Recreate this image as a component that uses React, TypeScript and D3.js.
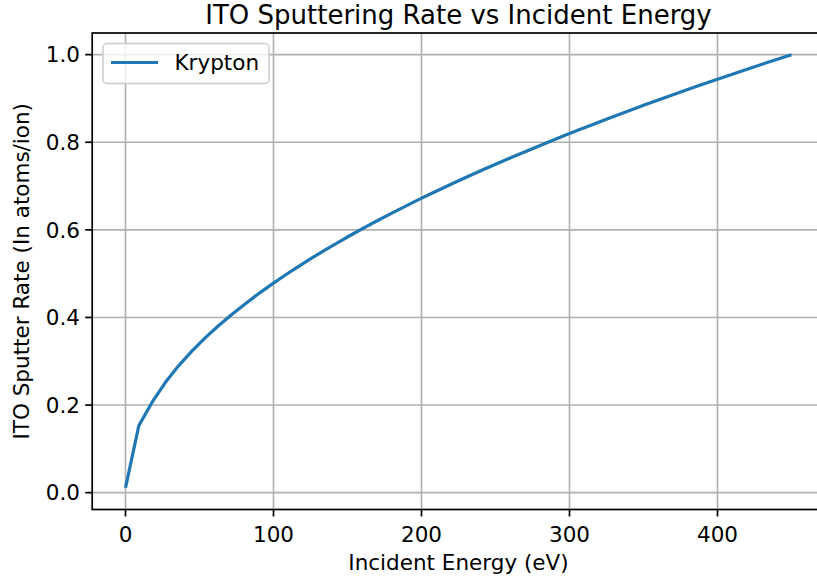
import React from "react";
import * as d3 from "d3";

// Krypton ion sputtering of ITO, sampled every 9 eV
const energy = [
  0, 9, 18, 27, 36, 45, 54, 63, 72, 81, 90, 99, 108, 117, 126, 135, 144, 153,
  162, 171, 180, 189, 198, 207, 216, 225, 234, 243, 252, 261, 270, 279, 288,
  297, 306, 315, 324, 333, 342, 351, 360, 369, 378, 387, 396, 405, 414, 423,
  432, 441, 450,
];
const rate = [
  0.011, 0.153, 0.2066, 0.252, 0.2901, 0.3236, 0.3539, 0.3816, 0.4073, 0.4315,
  0.4545, 0.4762, 0.497, 0.5168, 0.5359, 0.5544, 0.5722, 0.5894, 0.6061,
  0.6225, 0.6382, 0.6537, 0.6689, 0.6835, 0.698, 0.7121, 0.7259, 0.7394,
  0.7527, 0.7657, 0.7785, 0.7911, 0.8036, 0.8158, 0.8278, 0.8396, 0.8513,
  0.8629, 0.8742, 0.8854, 0.8965, 0.9074, 0.9181, 0.9288, 0.9393, 0.9497,
  0.96, 0.9701, 0.9802, 0.9901, 1.0,
];
const xTicks = [0, 100, 200, 300, 400];
const yTicks = [0, 0.2, 0.4, 0.6, 0.8, 1.0];
const seriesName = "Krypton";

const W = 817;
const H = 583;
const FONT = "DejaVu Sans, sans-serif";
const FS = 21.5;
const BLUE = "#1f77b4";
const GRID = "#b0b0b0";

const plot = { left: 92.2, right: 824.8, top: 33, bottom: 509.5 };

function padded(ext: [number, number]): [number, number] {
  const m = (ext[1] - ext[0]) * 0.05;
  return [ext[0] - m, ext[1] + m];
}

export default function App() {
  const x = d3
    .scaleLinear()
    .domain(padded(d3.extent(energy) as [number, number]))
    .range([plot.left, plot.right]);
  const y = d3
    .scaleLinear()
    .domain(padded(d3.extent(rate) as [number, number]))
    .range([plot.bottom, plot.top]);

  const pts = energy.map((e, i) => [e, rate[i]] as [number, number]);
  const line = d3
    .line<[number, number]>()
    .x((d) => x(d[0]))
    .y((d) => y(d[1]));

  const fmt = d3.format(".1f");
  const tickLen = 7;

  return (
    <svg
      width={W}
      height={H}
      style={{ position: "fixed", left: 0, top: 0, background: "#fff" }}
      fontFamily={FONT}
    >
      <rect x={0} y={0} width={W} height={H} fill="#fff" />
      <defs>
        <clipPath id="plotArea">
          <rect
            x={plot.left}
            y={plot.top}
            width={plot.right - plot.left}
            height={plot.bottom - plot.top}
          />
        </clipPath>
      </defs>

      {/* grid */}
      <g stroke={GRID} strokeWidth={1.6}>
        {xTicks.map((t) => (
          <line key={"gx" + t} x1={x(t)} x2={x(t)} y1={plot.top} y2={plot.bottom} />
        ))}
        {yTicks.map((t) => (
          <line key={"gy" + t} x1={plot.left} x2={plot.right} y1={y(t)} y2={y(t)} />
        ))}
      </g>

      {/* series */}
      <path
        d={line(pts) ?? ""}
        fill="none"
        stroke={BLUE}
        strokeWidth={3.2}
        strokeLinejoin="round"
        strokeLinecap="butt"
        clipPath="url(#plotArea)"
      />

      {/* frame */}
      <rect
        x={plot.left}
        y={plot.top}
        width={plot.right - plot.left}
        height={plot.bottom - plot.top}
        fill="none"
        stroke="#000"
        strokeWidth={1.7}
      />

      {/* x axis */}
      <g>
        {xTicks.map((t) => (
          <g key={"xt" + t}>
            <line
              x1={x(t)}
              x2={x(t)}
              y1={plot.bottom}
              y2={plot.bottom + tickLen}
              stroke="#000"
              strokeWidth={1.7}
            />
            <text x={x(t)} y={541.5} textAnchor="middle" fontSize={FS} fill="#000">
              {t}
            </text>
          </g>
        ))}
        <text
          x={(plot.left + plot.right) / 2}
          y={570}
          textAnchor="middle"
          fontSize={FS}
          fill="#000"
        >
          Incident Energy (eV)
        </text>
      </g>

      {/* y axis */}
      <g>
        {yTicks.map((t) => (
          <g key={"yt" + t}>
            <line
              x1={plot.left - tickLen}
              x2={plot.left}
              y1={y(t)}
              y2={y(t)}
              stroke="#000"
              strokeWidth={1.7}
            />
            <text
              x={80}
              y={y(t) + FS * 0.36}
              textAnchor="end"
              fontSize={FS}
              fill="#000"
            >
              {fmt(t)}
            </text>
          </g>
        ))}
        <text
          transform={`translate(29,${(plot.top + plot.bottom) / 2}) rotate(-90)`}
          textAnchor="middle"
          fontSize={FS}
          fill="#000"
        >
          ITO Sputter Rate (In atoms/ion)
        </text>
      </g>

      {/* title */}
      <text
        x={(plot.left + plot.right) / 2}
        y={24}
        textAnchor="middle"
        fontSize={26}
        fill="#000"
      >
        ITO Sputtering Rate vs Incident Energy
      </text>

      {/* legend */}
      <g>
        <rect
          x={103}
          y={43.5}
          width={166}
          height={40}
          rx={4}
          fill="#fff"
          fillOpacity={0.8}
          stroke="#cccccc"
          strokeWidth={1.5}
        />
        <line x1={111} x2={158} y1={62.5} y2={62.5} stroke={BLUE} strokeWidth={3.2} />
        <text x={174.5} y={62.5 + FS * 0.36} fontSize={FS} fill="#000">
          {seriesName}
        </text>
      </g>
    </svg>
  );
}
